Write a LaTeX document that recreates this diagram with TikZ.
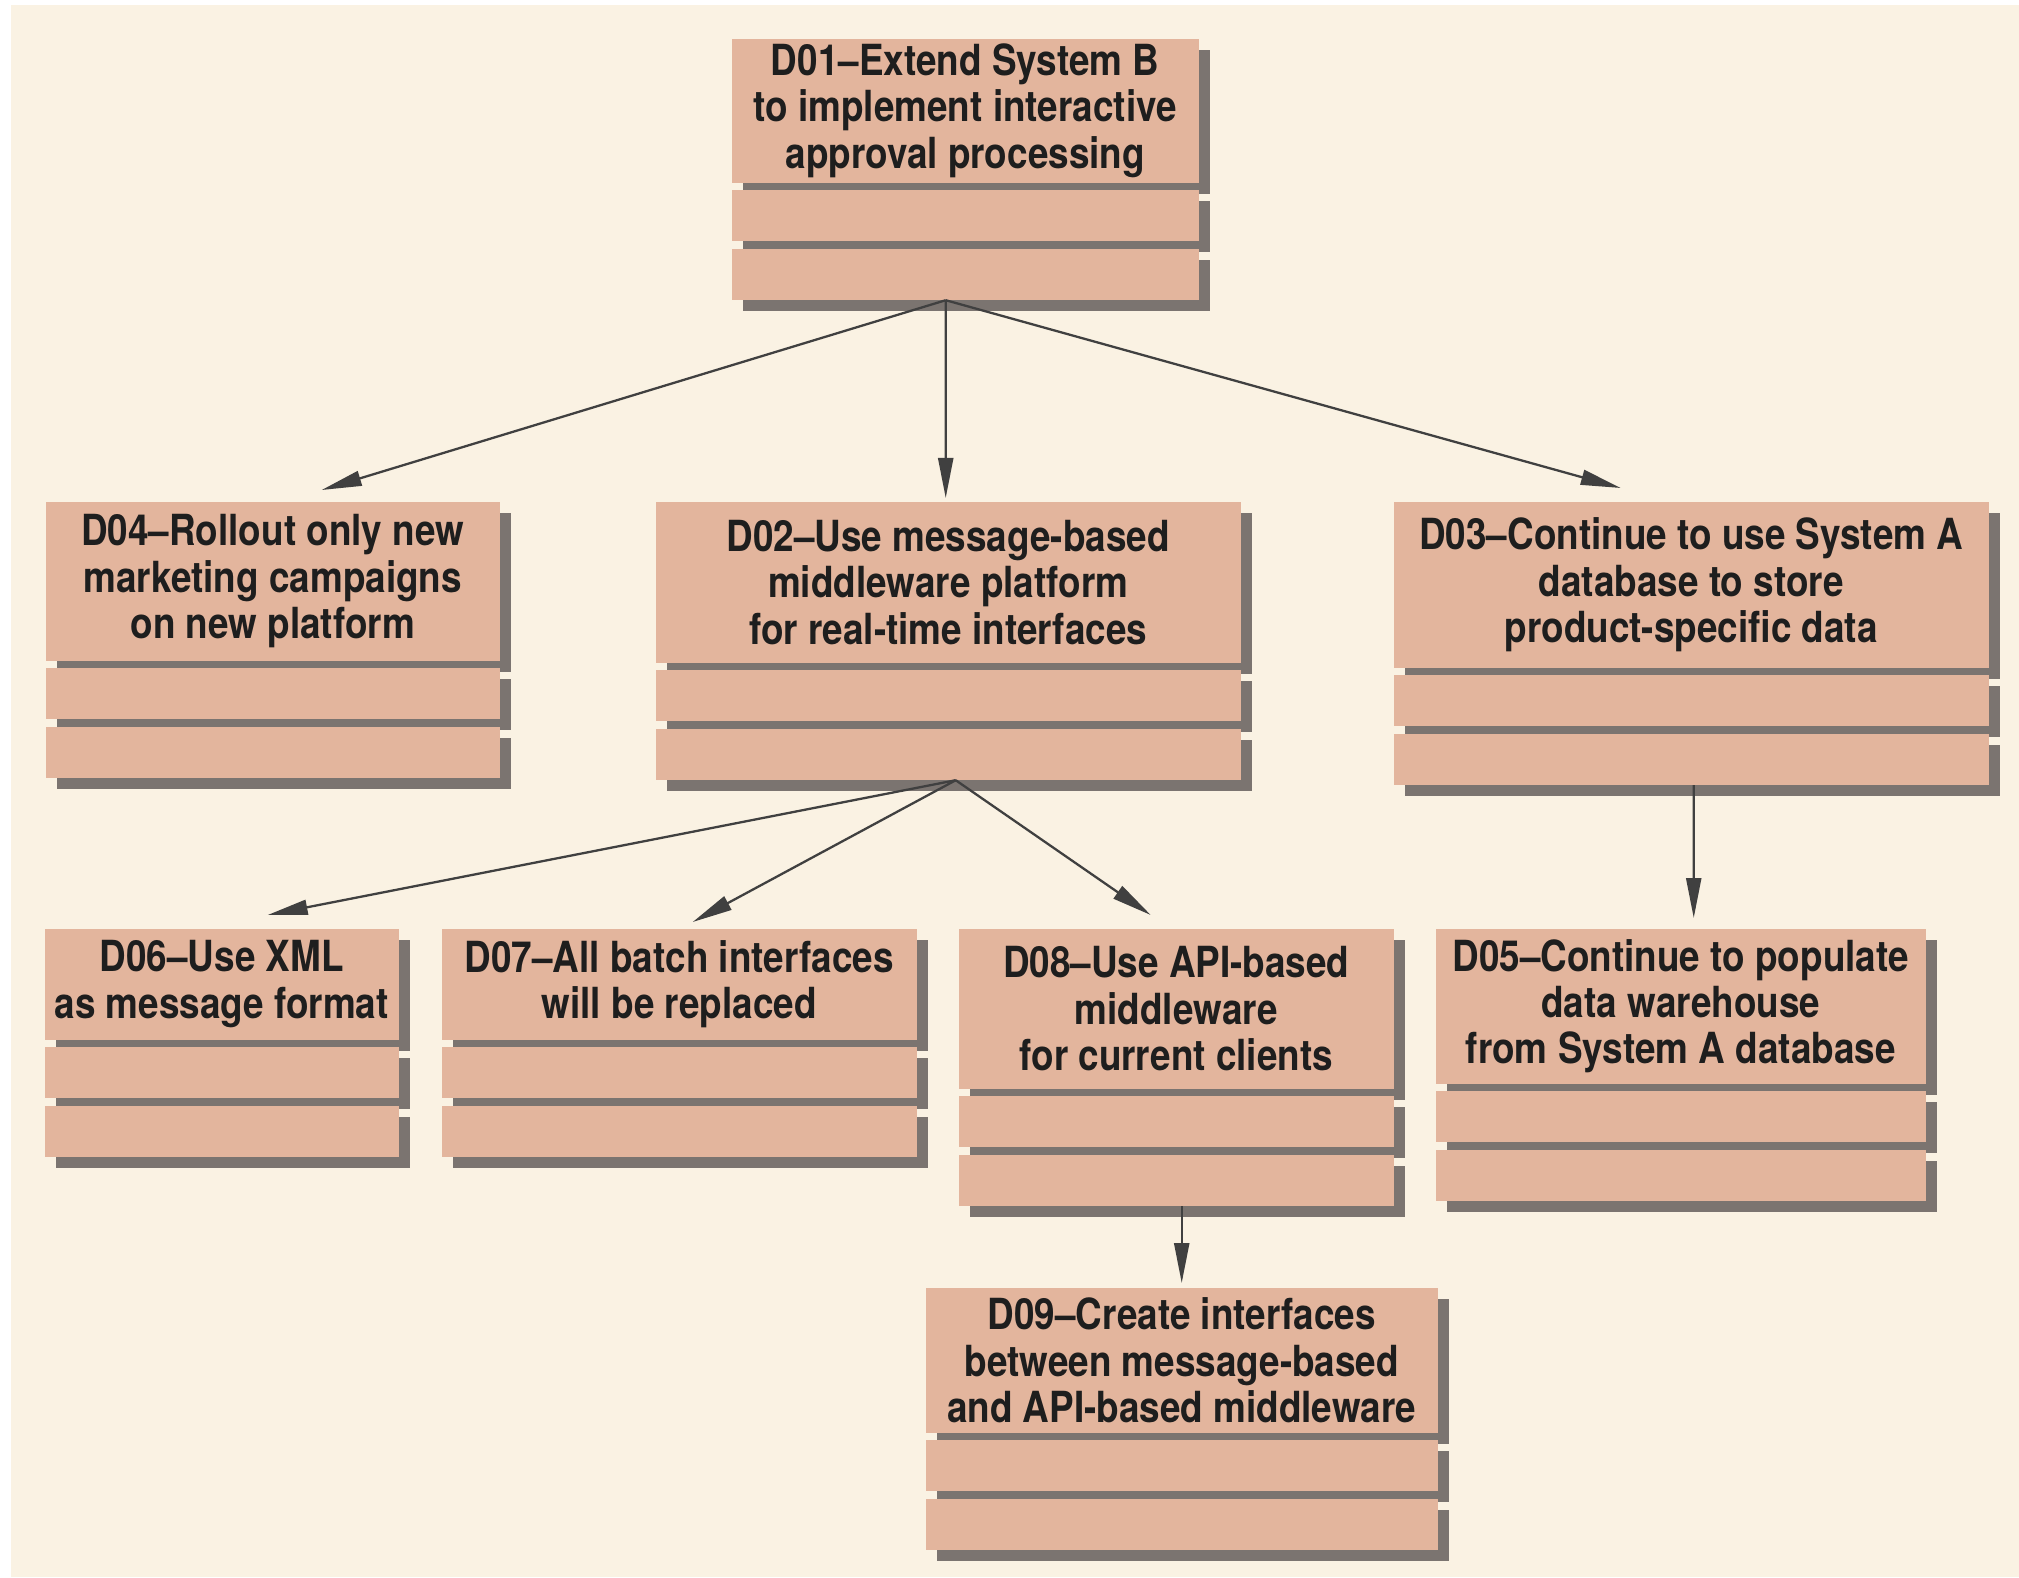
\documentclass[tikz,border=0pt]{standalone}
\usepackage{fontspec}
\setmainfont{TeX Gyre Heros}[FakeStretch=0.86]
\usetikzlibrary{arrows.meta,positioning,shadows}
\definecolor{boxfill}{HTML}{E3B59D}
\definecolor{boxshade}{HTML}{7B7470}
\definecolor{paper}{HTML}{FAF2E3}
\definecolor{ink}{HTML}{1E1E1E}
\tikzset{
    >={Triangle[length=0.4cm,width=0.15cm]},
    every edge/.append style={line width=0.65pt,draw=ink!85},
    shade/.style={drop shadow={shadow xshift=0.11cm,shadow yshift=-0.11cm,fill=boxshade,opacity=1}},
    decision/.append style={anchor=north west,fill=boxfill,inner sep=0pt,align=center,shade,
                            font=\fontsize{12.2}{13.2}\selectfont\bfseries,text=ink},
    slot/.append style={fill=boxfill,inner sep=0pt,shade,minimum height=0.51cm},
}

\begin{document}
\begin{tikzpicture}
    \useasboundingbox (0,0) rectangle (20.19,-15.77);
    \fill[white] (0,0) rectangle (20.19,-15.77);
    \fill[paper] (0.11,-0.05) rectangle (20.19,-15.77);

    % top level
    \node[decision,minimum width=4.67cm,minimum height=1.44cm] (d01) at (7.31,-0.38)
        {D01--Extend System B\\to implement interactive\\approval processing};
    \node[slot,minimum width=4.67cm,below=0.06cm of d01] (d01b) {};
    \node[slot,minimum width=4.67cm,below=0.06cm of d01b] (d01c) {};

    % second level
    \node[decision,minimum width=4.54cm,minimum height=1.59cm] (d04) at (0.45,-5.01)
        {D04--Rollout only new\\marketing campaigns\\on new platform};
    \node[slot,minimum width=4.54cm,below=0.06cm of d04] (d04b) {};
    \node[slot,minimum width=4.54cm,below=0.06cm of d04b] (d04c) {};

    \node[decision,minimum width=5.85cm,minimum height=1.61cm] (d02) at (6.55,-5.01)
        {D02--Use message-based\\middleware platform\\for real-time interfaces};
    \node[slot,minimum width=5.85cm,below=0.06cm of d02] (d02b) {};
    \node[slot,minimum width=5.85cm,below=0.06cm of d02b] (d02c) {};

    \node[decision,minimum width=5.95cm,minimum height=1.66cm] (d03) at (13.93,-5.01)
        {D03--Continue to use System A\\database to store\\product-specific data};
    \node[slot,minimum width=5.95cm,below=0.06cm of d03] (d03b) {};
    \node[slot,minimum width=5.95cm,below=0.06cm of d03b] (d03c) {};

    % third level
    \node[decision,minimum width=3.54cm,minimum height=1.11cm] (d06) at (0.44,-9.28)
        {D06--Use XML\\as message format};
    \node[slot,minimum width=3.54cm,below=0.06cm of d06] (d06b) {};
    \node[slot,minimum width=3.54cm,below=0.06cm of d06b] (d06c) {};

    \node[decision,minimum width=4.75cm,minimum height=1.11cm] (d07) at (4.41,-9.28)
        {D07--All batch interfaces\\will be replaced};
    \node[slot,minimum width=4.75cm,below=0.06cm of d07] (d07b) {};
    \node[slot,minimum width=4.75cm,below=0.06cm of d07b] (d07c) {};

    \node[decision,minimum width=4.35cm,minimum height=1.60cm] (d08) at (9.58,-9.28)
        {D08--Use API-based\\middleware\\for current clients};
    \node[slot,minimum width=4.35cm,below=0.06cm of d08] (d08b) {};
    \node[slot,minimum width=4.35cm,below=0.06cm of d08b] (d08c) {};

    \node[decision,minimum width=4.90cm,minimum height=1.55cm] (d05) at (14.35,-9.28)
        {D05--Continue to populate\\data warehouse\\from System A database};
    \node[slot,minimum width=4.90cm,below=0.06cm of d05] (d05b) {};
    \node[slot,minimum width=4.90cm,below=0.06cm of d05b] (d05c) {};

    % fourth level
    \node[decision,minimum width=5.12cm,minimum height=1.45cm] (d09) at (9.25,-12.87)
        {D09--Create interfaces\\between message-based\\and API-based middleware};
    \node[slot,minimum width=5.12cm,below=0.06cm of d09] (d09b) {};
    \node[slot,minimum width=5.12cm,below=0.06cm of d09b] (d09c) {};

    \path[->] ([xshift=-0.195cm]d01c.south)
                    edge ([xshift=0.49cm,yshift=0.11cm]d04.north)
                    edge ([xshift=-0.025cm,yshift=0.03cm]d02.north)
                    edge ([xshift=-0.705cm,yshift=0.13cm]d03.north);
    \path[->] ([xshift=0.075cm]d02c.south)
                    edge ([xshift=0.46cm,yshift=0.13cm]d06.north)
                    edge ([xshift=0.135cm,yshift=0.06cm]d07.north)
                    edge ([xshift=-0.255cm,yshift=0.13cm]d08.north);
    \path[->] ([xshift=0.025cm]d03c.south)
                    edge ([xshift=0.13cm,yshift=0.10cm]d05.north);
    \path[->] ([xshift=0.055cm]d08c.south)
                    edge ([yshift=0.04cm]d09.north);
\end{tikzpicture}
\end{document}
